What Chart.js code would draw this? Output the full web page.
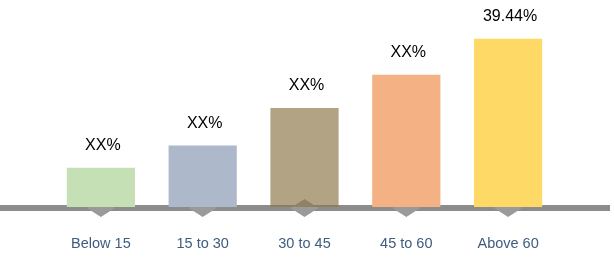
<!DOCTYPE html>
<html>
<head>
<meta charset="utf-8">
<script src="https://cdn.jsdelivr.net/npm/chart.js@4.4.0/dist/chart.umd.min.js"></script>
<style>
  html, body { margin: 0; padding: 0; background: #fff; }
  #wrap { width: 614px; height: 260px; position: relative; }
</style>
</head>
<body>
<div id="wrap"><canvas id="ageChart"></canvas></div>
<script>
// age groups
const ageGroups = ["Below 15", "15 to 30", "30 to 45", "45 to 60", "Above 60"];
const shareValues = [9.2, 14.4, 23.2, 31.0, 39.44];
const shareLabels = ["XX%", "XX%", "XX%", "XX%", "39.44%"];
const barColors = ["#C5E0B4", "#ADB9CA", "rgba(140, 120, 72, 0.68)", "#F4B183", "#FFD966"];

// grey baseline with diamond markers, drawn under the bars
const baselinePlugin = {
  id: "baseline",
  beforeDatasetsDraw(chart) {
    const ctx = chart.ctx;
    const y0 = chart.scales.y.getPixelForValue(0);
    const xScale = chart.scales.x;
    ctx.save();
    ctx.fillStyle = "#8C8C8C";
    ctx.fillRect(0, y0 - 2, chart.width - 4, 6);
    ctx.fillStyle = "#9A9A9A";
    ageGroups.forEach((g, i) => {
      const cx = xScale.getPixelForValue(i);
      ctx.beginPath();
      ctx.moveTo(cx, y0 - 8);
      ctx.lineTo(cx + 14, y0 + 1);
      ctx.lineTo(cx, y0 + 10);
      ctx.lineTo(cx - 14, y0 + 1);
      ctx.closePath();
      ctx.fill();
    });
    ctx.restore();
  },
};

// value text above each bar
const valueLabelPlugin = {
  id: "valueLabels",
  afterDatasetsDraw(chart) {
    const ctx = chart.ctx;
    const meta = chart.getDatasetMeta(0);
    ctx.save();
    ctx.fillStyle = "#000";
    ctx.font = "16px 'Liberation Sans', Arial, sans-serif";
    ctx.textAlign = "center";
    ctx.textBaseline = "middle";
    meta.data.forEach((bar, i) => {
      ctx.fillText(shareLabels[i], bar.x + 2, bar.y - 22);
    });
    ctx.restore();
  },
};

new Chart("ageChart", {
  type: "bar",
  data: {
    labels: ageGroups,
    datasets: [
      {
        data: shareValues,
        backgroundColor: barColors,
        borderWidth: 0,
        barPercentage: 0.67,
        categoryPercentage: 1,
      },
    ],
  },
  options: {
    responsive: true,
    maintainAspectRatio: false,
    animation: false,
    layout: {
      padding: { top: 15, left: 50, right: 55, bottom: 0 },
    },
    plugins: {
      legend: { display: false },
      tooltip: { enabled: false },
    },
    scales: {
      y: {
        display: false,
        min: 0,
        max: 45,
      },
      x: {
        grid: { display: false, drawTicks: false },
        border: { display: false },
        afterFit(scale) {
          scale.height = 53;
        },
        ticks: {
          padding: 28,
          color: "#3E5C7E",
          font: { size: 14.5, family: "'Liberation Sans', Arial, sans-serif" },
        },
      },
    },
  },
  plugins: [baselinePlugin, valueLabelPlugin],
});
</script>
</body>
</html>
